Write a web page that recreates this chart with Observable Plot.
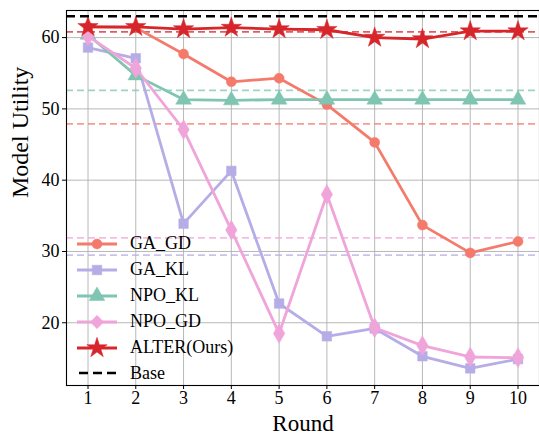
<!DOCTYPE html>
<html>
<head>
<meta charset="utf-8">
<script src="https://cdn.jsdelivr.net/npm/d3@7"></script>
<script src="https://cdn.jsdelivr.net/npm/@observablehq/plot@0.6"></script>
<style>
  body { margin: 0; background: white; }
  #wrap { position: relative; width: 539px; height: 436px; overflow: hidden; }
  #legend { position: absolute; left: 77px; top: 231px; font-family: 'Liberation Serif', 'Times New Roman', serif; font-size: 18px; color: black; }
  .row { display: flex; align-items: center; height: 25.9px; }
  .row svg { width: 40px; height: 26px; margin-right: 13px; overflow: visible; }
</style>
</head>
<body>
<div id="wrap"><div id="legend"></div></div>
<script>
const rounds = [1, 2, 3, 4, 5, 6, 7, 8, 9, 10];
const seriesNames = ["GA_GD", "GA_KL", "NPO_KL", "NPO_GD", "ALTER(Ours)"];
const gaGD  = [61.5, 61.4, 57.7, 53.8, 54.3, 50.6, 45.3, 33.7, 29.8, 31.4];
const gaKL  = [58.6, 57.1, 33.9, 41.3, 22.7, 18.1, 19.2, 15.3, 13.6, 14.9];
const npoKL = [60.4, 54.7, 51.3, 51.2, 51.3, 51.3, 51.3, 51.3, 51.3, 51.3];
const npoGD = [60.2, 55.7, 47.1, 33.0, 18.5, 38.0, 19.3, 16.8, 15.2, 15.1];
const alter = [61.5, 61.5, 61.2, 61.4, 61.2, 61.1, 60.0, 59.8, 60.9, 60.9];
const refNames = ["Base", "ALTER(Ours)", "NPO_KL", "GA_GD", "NPO_GD", "GA_KL"];
const refValues = [63.0, 60.8, 52.6, 47.9, 31.9, 29.5];
const yTicks = [20, 30, 40, 50, 60];

const colors = {"GA_GD": "#F47B6B", "GA_KL": "#B6ADE7", "NPO_KL": "#7FC5B1", "NPO_GD": "#F0A5DA", "ALTER(Ours)": "#D7262B", "Base": "#000000"};
const symbols = {"GA_GD": "circle", "GA_KL": "square", "NPO_KL": "triangle", "NPO_GD": "diamond", "ALTER(Ours)": "star"};
const radii = {"GA_GD": 5, "GA_KL": 5.4, "NPO_KL": 5.8, "NPO_GD": 6, "ALTER(Ours)": 6.4};

const valueArrays = [gaGD, gaKL, npoKL, npoGD, alter];
const data = seriesNames.flatMap((s, i) => rounds.map((r, j) => ({series: s, round: r, value: valueArrays[i][j]})));
const refs = refNames.map((n, i) => ({name: n, value: refValues[i]}));

const font = "'Liberation Serif', 'Times New Roman', serif";

const marks = [
  Plot.gridX(rounds, {stroke: "#b0b0b0", strokeOpacity: 1, strokeWidth: 0.9}),
  Plot.gridY(yTicks, {stroke: "#b0b0b0", strokeOpacity: 1, strokeWidth: 0.9}),
  Plot.axisX({ticks: rounds, tickSize: 4, tickPadding: 2, fontSize: 18, label: null}),
  Plot.axisY({ticks: yTicks, tickSize: 4, tickPadding: 3, fontSize: 18, label: null}),
  Plot.ruleY(refs.filter(d => d.name !== "Base"), {y: "value", stroke: d => colors[d.name], strokeOpacity: 0.75, strokeWidth: 1.8, strokeDasharray: "7,4"}),
];
for (const s of seriesNames) {
  const d = data.filter(e => e.series === s);
  marks.push(Plot.line(d, {x: "round", y: "value", stroke: colors[s], strokeWidth: 2.8}));
  marks.push(Plot.dot(d, {x: "round", y: "value", fill: colors[s], stroke: colors[s], strokeWidth: 0.5, symbol: symbols[s], r: radii[s]}));
}
marks.push(Plot.ruleY(refs.filter(d => d.name === "Base"), {y: "value", stroke: "black", strokeWidth: 2.6, strokeDasharray: "9,5"}));
marks.push(Plot.frame({stroke: "black", strokeWidth: 1.1}));
marks.push(Plot.text(["Model Utility"], {frameAnchor: "left", dx: -46, rotate: -90, fontSize: 24, fill: "black"}));
marks.push(Plot.text(["Round"], {frameAnchor: "bottom", dy: 38.5, lineAnchor: "middle", fontSize: 23, fill: "black"}));

const chart = Plot.plot({
  width: 539,
  height: 436,
  marginLeft: 66,
  marginRight: 0,
  marginTop: 10,
  marginBottom: 51,
  x: {domain: [0.55, 10.45]},
  y: {domain: [11.2, 63.8]},
  style: {fontFamily: font, fontSize: "18px", color: "black", background: "white", overflow: "visible"},
  marks
});
document.getElementById("wrap").prepend(chart);

// Legend
const legendItems = [...seriesNames, "Base"];
const legend = document.getElementById("legend");
const typeMap = {circle: d3.symbolCircle, square: d3.symbolSquare, triangle: d3.symbolTriangle, diamond: d3.symbolDiamond2, star: d3.symbolStar};
for (const s of legendItems) {
  const row = document.createElement("div");
  row.className = "row";
  const svg = d3.create("svg");
  if (s === "Base") {
    svg.append("line").attr("x1", 2).attr("x2", 40).attr("y1", 13).attr("y2", 13)
      .attr("stroke", "black").attr("stroke-width", 2.6).attr("stroke-dasharray", "9,5");
  } else {
    svg.append("line").attr("x1", 0).attr("x2", 40).attr("y1", 13).attr("y2", 13)
      .attr("stroke", colors[s]).attr("stroke-width", 2.8);
    const r = radii[s];
    svg.append("path").attr("transform", "translate(20,13)")
      .attr("d", d3.symbol(typeMap[symbols[s]], Math.PI * r * r)())
      .attr("fill", colors[s]).attr("stroke", colors[s]).attr("stroke-width", 0.5);
  }
  row.appendChild(svg.node());
  const t = document.createElement("span");
  t.textContent = s;
  row.appendChild(t);
  legend.appendChild(row);
}
</script>
</body>
</html>
